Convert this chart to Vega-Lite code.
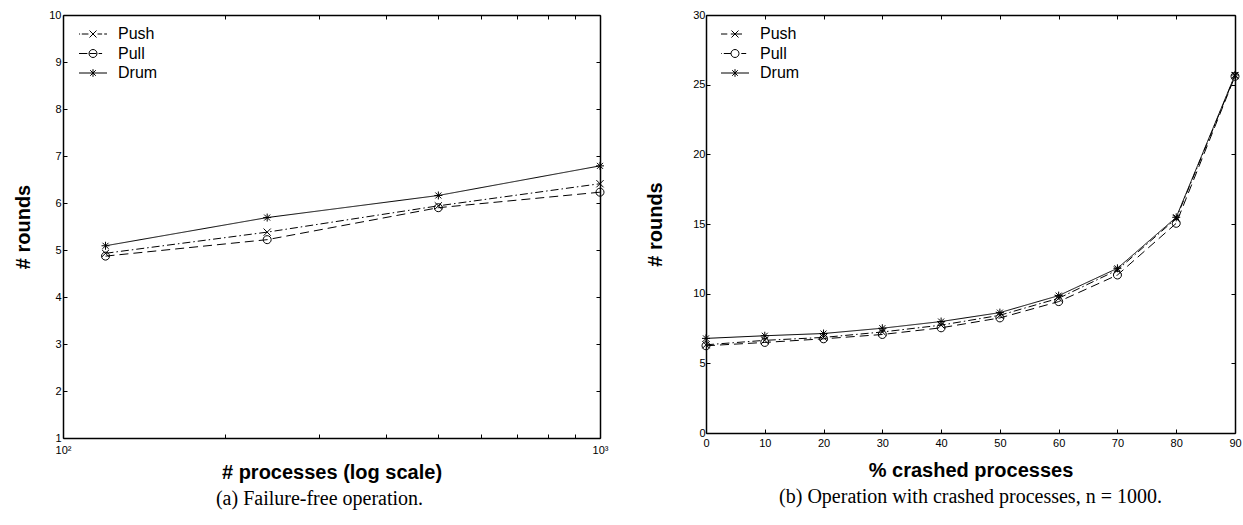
{
  "$schema": "https://vega.github.io/schema/vega-lite/v6.json",
  "padding": {"left": 13, "top": 9, "right": 5, "bottom": 5},
  "background": "white",
  "datasets": {
    "a": [
      {"n": 120, "series": "Push", "rounds": 4.93},
      {"n": 240, "series": "Push", "rounds": 5.38},
      {"n": 500, "series": "Push", "rounds": 5.94},
      {"n": 1000, "series": "Push", "rounds": 6.41},
      {"n": 120, "series": "Pull", "rounds": 4.87},
      {"n": 240, "series": "Pull", "rounds": 5.22},
      {"n": 500, "series": "Pull", "rounds": 5.9},
      {"n": 1000, "series": "Pull", "rounds": 6.23},
      {"n": 120, "series": "Drum", "rounds": 5.09},
      {"n": 240, "series": "Drum", "rounds": 5.69},
      {"n": 500, "series": "Drum", "rounds": 6.16},
      {"n": 1000, "series": "Drum", "rounds": 6.79}
    ],
    "b": [
      {"crashed": 0, "series": "Push", "rounds": 6.33},
      {"crashed": 10, "series": "Push", "rounds": 6.65},
      {"crashed": 20, "series": "Push", "rounds": 6.86},
      {"crashed": 30, "series": "Push", "rounds": 7.25},
      {"crashed": 40, "series": "Push", "rounds": 7.74},
      {"crashed": 50, "series": "Push", "rounds": 8.45},
      {"crashed": 60, "series": "Push", "rounds": 9.67},
      {"crashed": 70, "series": "Push", "rounds": 11.7},
      {"crashed": 80, "series": "Push", "rounds": 15.4},
      {"crashed": 90, "series": "Push", "rounds": 25.65},
      {"crashed": 0, "series": "Pull", "rounds": 6.26},
      {"crashed": 10, "series": "Pull", "rounds": 6.5},
      {"crashed": 20, "series": "Pull", "rounds": 6.76},
      {"crashed": 30, "series": "Pull", "rounds": 7.07},
      {"crashed": 40, "series": "Pull", "rounds": 7.55},
      {"crashed": 50, "series": "Pull", "rounds": 8.26},
      {"crashed": 60, "series": "Pull", "rounds": 9.43},
      {"crashed": 70, "series": "Pull", "rounds": 11.34},
      {"crashed": 80, "series": "Pull", "rounds": 15.05},
      {"crashed": 90, "series": "Pull", "rounds": 25.6},
      {"crashed": 0, "series": "Drum", "rounds": 6.79},
      {"crashed": 10, "series": "Drum", "rounds": 6.98},
      {"crashed": 20, "series": "Drum", "rounds": 7.14},
      {"crashed": 30, "series": "Drum", "rounds": 7.52},
      {"crashed": 40, "series": "Drum", "rounds": 8.0},
      {"crashed": 50, "series": "Drum", "rounds": 8.64},
      {"crashed": 60, "series": "Drum", "rounds": 9.86},
      {"crashed": 70, "series": "Drum", "rounds": 11.82},
      {"crashed": 80, "series": "Drum", "rounds": 15.48},
      {"crashed": 90, "series": "Drum", "rounds": 25.7}
    ]
  },
  "hconcat": [
    {
      "width": 537,
      "height": 423,
      "data": {"name": "a"},
      "title": {"text": "(a)  Failure-free operation.", "orient": "bottom", "anchor": "middle", "font": "Liberation Serif", "fontSize": 20, "fontWeight": "normal", "color": "black", "offset": 7, "dx": -12},
      "layer": [
        {
          "mark": {"type": "line", "color": "black", "strokeWidth": 1},
          "encoding": {
            "x": {"field": "n", "type": "quantitative", "scale": {"type": "log", "domain": [100, 1000], "nice": false},
              "axis": {"orient": "bottom", "values": [100, 200, 300, 400, 500, 600, 700, 800, 900, 1000], "labelExpr": "datum.value == 100 ? '10²' : datum.value == 1000 ? '10³' : ''", "labelPadding": 10, "title": "# processes (log scale)", "titlePadding": 7}},
            "y": {"field": "rounds", "type": "quantitative", "scale": {"domain": [1, 10], "nice": false, "zero": false},
              "axis": {"orient": "left", "values": [1, 2, 3, 4, 5, 6, 7, 8, 9, 10], "labelPadding": 6, "title": "# rounds", "titlePadding": 15}},
            "strokeDash": {"field": "series", "type": "nominal",
              "scale": {"domain": ["Push", "Pull", "Drum"], "range": [[8, 3, 1.5, 3], [9, 5], [1, 0]]},
              "legend": null}
          }
        },
        {
          "mark": {"type": "point", "filled": false, "color": "black", "strokeWidth": 1, "size": 64, "opacity": 1},
          "encoding": {
            "x": {"field": "n", "type": "quantitative", "scale": {"type": "log", "domain": [100, 1000], "nice": false},
              "axis": {"orient": "top", "values": [100, 200, 300, 400, 500, 600, 700, 800, 900, 1000], "labels": false, "title": null}},
            "y": {"field": "rounds", "type": "quantitative", "scale": {"domain": [1, 10], "nice": false, "zero": false},
              "axis": {"orient": "right", "values": [1, 2, 3, 4, 5, 6, 7, 8, 9, 10], "labels": false, "title": null}},
            "shape": {"field": "series", "type": "nominal",
              "scale": {"domain": ["Push", "Pull", "Drum"], "range": ["M-0.9,-0.9L0.9,0.9M-0.9,0.9L0.9,-0.9", "M1,0A1,1 0 1,1 -1,0A1,1 0 1,1 1,0", "M0,-1V1M-0.75,-0.75L0.75,0.75M-0.75,0.75L0.75,-0.75M-1,0H1"]},
              "legend": null}
          }
        },
        {
          "mark": {"type": "point", "filled": false, "color": "black", "strokeWidth": 1, "size": 64, "opacity": 0},
          "encoding": {
            "x": {"field": "n", "type": "quantitative", "scale": {"type": "log", "domain": [100, 1000], "nice": false}, "axis": null},
            "y": {"field": "rounds", "type": "quantitative", "scale": {"domain": [1, 10], "nice": false, "zero": false}, "axis": null},
            "shape": {"field": "series", "type": "nominal",
              "scale": {"domain": ["Push", "Pull", "Drum"], "range": [
                "M-1,0H-0.85M-0.6,0H0.35M0.5,-0.5L1.5,0.5M0.5,0.5L1.5,-0.5M1.65,0H2.3M2.6,0H3",
                "M-1,0H0.2M0.5,0H1.5M1.57,0A0.57,0.57 0 1,1 0.43,0A0.57,0.57 0 1,1 1.57,0M1.8,0H2.3",
                "M-1,0H3M1,-0.55V0.55M0.6,-0.4L1.4,0.4M0.6,0.4L1.4,-0.4"]},
              "legend": {"orient": "none", "legendX": 15, "legendY": 11, "padding": 0, "title": null, "labelFont": "Liberation Sans", "labelFontSize": 16, "labelColor": "black", "labelOffset": 24, "symbolSize": 196, "rowPadding": 3.5, "symbolStrokeWidth": 1, "symbolStrokeColor": "black", "symbolFillColor": "transparent", "symbolOpacity": 1}}
          }
        }
      ],
      "resolve": {"axis": {"x": "independent", "y": "independent"}, "scale": {"shape": "independent"}}
    },
    {
      "width": 529,
      "height": 418,
      "data": {"name": "b"},
      "title": {"text": "(b)  Operation with crashed processes, n = 1000.", "orient": "bottom", "anchor": "middle", "font": "Liberation Serif", "fontSize": 20, "fontWeight": "normal", "color": "black", "offset": 7},
      "layer": [
        {
          "mark": {"type": "line", "color": "black", "strokeWidth": 1},
          "encoding": {
            "x": {"field": "crashed", "type": "quantitative", "scale": {"domain": [0, 90], "nice": false},
              "axis": {"orient": "bottom", "values": [0, 10, 20, 30, 40, 50, 60, 70, 80, 90], "labelPadding": 8, "title": "% crashed processes", "titlePadding": 12}},
            "y": {"field": "rounds", "type": "quantitative", "scale": {"domain": [0, 30], "nice": false},
              "axis": {"orient": "left", "values": [0, 5, 10, 15, 20, 25, 30], "labelPadding": 5, "title": "# rounds", "titlePadding": 27}},
            "strokeDash": {"field": "series", "type": "nominal",
              "scale": {"domain": ["Push", "Pull", "Drum"], "range": [[9, 5], [8, 3, 1.5, 3], [1, 0]]},
              "legend": null}
          }
        },
        {
          "mark": {"type": "point", "filled": false, "color": "black", "strokeWidth": 1, "size": 64, "opacity": 1},
          "encoding": {
            "x": {"field": "crashed", "type": "quantitative", "scale": {"domain": [0, 90], "nice": false},
              "axis": {"orient": "top", "values": [0, 10, 20, 30, 40, 50, 60, 70, 80, 90], "labels": false, "title": null}},
            "y": {"field": "rounds", "type": "quantitative", "scale": {"domain": [0, 30], "nice": false},
              "axis": {"orient": "right", "values": [0, 5, 10, 15, 20, 25, 30], "labels": false, "title": null}},
            "shape": {"field": "series", "type": "nominal",
              "scale": {"domain": ["Push", "Pull", "Drum"], "range": ["M-0.9,-0.9L0.9,0.9M-0.9,0.9L0.9,-0.9", "M1,0A1,1 0 1,1 -1,0A1,1 0 1,1 1,0", "M0,-1V1M-0.75,-0.75L0.75,0.75M-0.75,0.75L0.75,-0.75M-1,0H1"]},
              "legend": null}
          }
        },
        {
          "mark": {"type": "point", "filled": false, "color": "black", "strokeWidth": 1, "size": 64, "opacity": 0},
          "encoding": {
            "x": {"field": "crashed", "type": "quantitative", "scale": {"domain": [0, 90], "nice": false}, "axis": null},
            "y": {"field": "rounds", "type": "quantitative", "scale": {"domain": [0, 30], "nice": false}, "axis": null},
            "shape": {"field": "series", "type": "nominal",
              "scale": {"domain": ["Push", "Pull", "Drum"], "range": [
                "M-1,0H-0.1M0.4,0H2M0.5,-0.5L1.5,0.5M0.5,0.5L1.5,-0.5",
                "M-1,0H-0.9M-0.6,0H0.43M1.57,0A0.57,0.57 0 1,1 0.43,0A0.57,0.57 0 1,1 1.57,0M1.9,0H2.6",
                "M-1,0H3M1,-0.55V0.55M0.6,-0.4L1.4,0.4M0.6,0.4L1.4,-0.4"]},
              "legend": {"orient": "none", "legendX": 14, "legendY": 11, "padding": 0, "title": null, "labelFont": "Liberation Sans", "labelFontSize": 16, "labelColor": "black", "labelOffset": 24, "symbolSize": 196, "rowPadding": 3.5, "symbolStrokeWidth": 1, "symbolStrokeColor": "black", "symbolFillColor": "transparent", "symbolOpacity": 1}}
          }
        }
      ],
      "resolve": {"axis": {"x": "independent", "y": "independent"}, "scale": {"shape": "independent"}}
    }
  ],
  "spacing": 33,
  "config": {
    "view": {"stroke": null},
    "font": "Liberation Sans",
    "axis": {
      "grid": false,
      "domainColor": "black",
      "domainWidth": 1.5,
      "tickColor": "black",
      "tickWidth": 1,
      "tickSize": -4,
      "labelFont": "Liberation Sans",
      "labelFontSize": 11,
      "labelColor": "black",
      "labelFlush": false,
      "labelOverlap": false,
      "titleFont": "Liberation Sans",
      "titleFontSize": 20,
      "titleFontWeight": "bold",
      "titleColor": "black"
    }
  }
}
